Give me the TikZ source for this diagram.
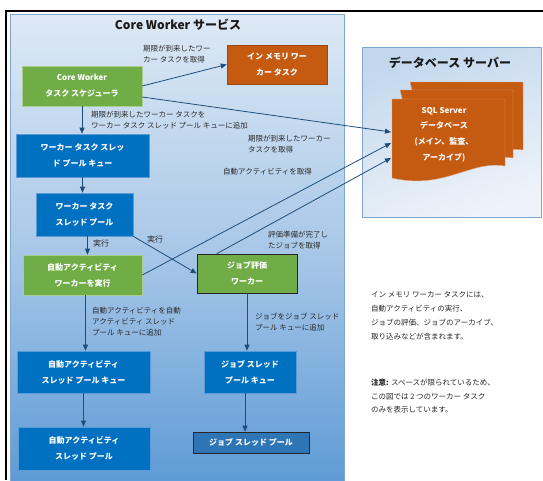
\documentclass[tikz,border=0pt]{standalone}
\usepackage{fontspec}
\setmainfont{Noto Sans CJK JP}
\usetikzlibrary{arrows.meta,calc}
\definecolor{gr}{HTML}{70AD47}
\definecolor{bl}{HTML}{0070C0}
\definecolor{blb}{HTML}{5B9BD5}
\definecolor{jpf}{HTML}{2E75B6}
\definecolor{org}{HTML}{C55A11}
\definecolor{arr}{HTML}{1F4E79}
\definecolor{lab}{HTML}{2A2A2A}
\definecolor{cwtop}{HTML}{DDE9F5}
\definecolor{cwmid}{HTML}{A9C8E8}
\definecolor{cwbot}{HTML}{5E9BD6}
\definecolor{pborder}{HTML}{7FA7CF}
\definecolor{dba}{HTML}{C3D8ED}
\definecolor{dbb}{HTML}{EEF3F9}
\begin{document}
\begin{tikzpicture}[x=1pt,y=-1pt,
  box/.style={inner sep=0pt, align=center, text=white,
    font=\fontsize{8}{16}\selectfont\bfseries, line width=0.6pt},
  greenbox/.style={box, fill=gr, draw=gr!60!white},
  bluebox/.style={box, fill=bl, draw=blb},
  lbl/.style={inner sep=0pt, anchor=west, align=left, text=lab,
    font=\fontsize{7.5}{11}\selectfont},
  conn/.style={draw=arr, line width=0.8pt, -{Triangle[length=6pt,width=5pt]}},
  title/.style={inner sep=0pt, text=black!90, font=\fontsize{12}{14}\selectfont\bfseries}
]
\useasboundingbox (0,0) rectangle (543,480);
% frame lines
\draw[line width=2.5pt] (4.75,11) -- (543,11);
\draw[line width=2.5pt] (6,9.75) -- (6,480);
% Core Worker panel
\draw[draw=pborder, line width=0.6pt, top color=cwtop, bottom color=cwbot, middle color=cwmid] (10,14) rectangle (344,482);
\node[title] (cwtitle) at (178,25) {Core Worker サービス};
% Database panel
\draw[draw=pborder, line width=0.6pt, top color=dba, bottom color=dbb, shading angle=20] (362,47) rectangle (541,217);
\node[title] (dbtitle) at (450,63) {データベース サーバー};
% document stack
\draw[fill=org, draw=org!55!white, line width=0.4pt] (410,82) -- (523,82) -- (523,150) .. controls (490,145) and (465,170) .. (430,160) -- cycle;
\draw[fill=org, draw=org!55!white, line width=0.4pt] (400,90) -- (513,90) -- (513,158) .. controls (480,153) and (455,178) .. (420,168) -- cycle;
\draw[fill=org, draw=org!55!white, line width=0.4pt] (392,99) -- (505,99) -- (505,166) .. controls (470,160) and (445,190) .. (392,178) -- cycle;
\node[box, font=\fontsize{8}{15.7}\selectfont\bfseries] (dbtext) at (444,134.5) {SQL Server\\データベース\\(メイン、監査、\\アーカイブ)};
\coordinate (db1) at (391,132);
\coordinate (db2) at (391,143);
\coordinate (db3) at (391,158);
% nodes
\node[greenbox, minimum width=120pt, minimum height=40pt] (sched) at (82,86) {Core Worker\\タスク スケジューラ};
\node[box, fill=org, draw=org!80!black, minimum width=100pt, minimum height=39pt] (inmem) at (277,64.5) {イン メモリ ワー\\カー タスク};
\node[bluebox, minimum width=133pt, minimum height=43pt] (wtq) at (82.5,155.5) {ワーカー タスク スレッ\\ド プール キュー};
\node[bluebox, minimum width=97pt, minimum height=43pt] (wtp) at (84.5,214.5) {ワーカー タスク\\スレッド プール};
\node[greenbox, minimum width=119pt, minimum height=40pt] (aaw) at (82.5,275) {自動アクティビティ\\ワーカーを実行};
\node[box, fill=gr, draw=black!85, minimum width=100pt, minimum height=39pt] (jew) at (247,273.5) {ジョブ評価\\ワーカー};
\node[bluebox, minimum width=133pt, minimum height=42pt] (aaq) at (83.5,372) {自動アクティビティ\\スレッド プール キュー};
\node[bluebox, minimum width=92pt, minimum height=42pt] (jq) at (250,372) {ジョブ スレッド\\プール キュー};
\node[bluebox, minimum width=132pt, minimum height=43pt] (aap) at (84,448.5) {自動アクティビティ\\スレッド プール};
\node[box, fill=jpf, draw=black!85, minimum width=116pt, minimum height=21pt] (jp) at (251,442.5) {ジョブ スレッド プール};
% helper coordinates
\coordinate (wtpS) at ($(wtp.south)+(3,0)$);
\coordinate (aawS) at ($(aaw.south)+(3,0)$);
\coordinate (jqS) at ($(jq.south)+(-5,0)$);
\coordinate (schE) at ($(sched.east)+(0,11)$);
\coordinate (jewN) at ($(jew.north west)+(20,0)$);
% connectors
\draw[conn] (sched.east) -- (inmem.west);
\draw[conn] (schE) -- (db1);
\draw[conn] (sched.south) -- (sched.south |- wtq.north);
\draw[conn] (wtq.south) -- (wtq.south |- wtp.north);
\draw[conn] (wtpS) -- (wtpS |- aaw.north);
\draw[conn] (wtp.south east) -- (jew.west);
\draw[conn] (aaw.east) -- (db2);
\draw[conn] (jewN) -- (db3);
\draw[conn] (aawS) -- (aawS |- aaq.north);
\draw[conn] (jew.south) -- (jew.south |- jq.north);
\draw[conn] (jqS) -- (jqS |- jp.north);
\draw[conn] (aaq.south) -- (aaq.south |- aap.north);
% labels
\node[lbl] (l1) at (143,54.5) {期限が到来したワー\\カー タスクを取得};
\node[lbl] (l2) at (91,120.5) {期限が到来したワーカー タスクを\\ワーカー タスク スレッド プール キューに追加};
\node[lbl] (l3) at (248,144) {期限が到来したワーカー\\タスクを取得};
\node[lbl] (l4) at (223,172) {自動アクティビティを取得};
\node[lbl, font=\fontsize{8}{11}\selectfont] (l5) at (93,243) {実行};
\node[lbl, font=\fontsize{8}{11}\selectfont] (l6) at (147,239) {実行};
\node[lbl] (l7) at (268,240.5) {評価準備が完了し\\たジョブを取得};
\node[lbl] (l8) at (92,321.5) {自動アクティビティを自動\\アクティビティ スレッド\\プール キューに追加};
\node[lbl] (l9) at (255,322.5) {ジョブをジョブ スレッド\\プール キューに追加};
% notes
\node[lbl, font=\fontsize{7.5}{14}\selectfont, text=black!85] (n1) at (371,316) {イン メモリ ワーカー タスクには、\\自動アクティビティの実行、\\ジョブの評価、ジョブのアーカイブ、\\取り込みなどが含まれます。};
\node[lbl, font=\fontsize{7.5}{13.5}\selectfont, text=black!85] (n2) at (371,396.5) {\textbf{注意:} スペースが限られているため、\\この図では 2 つのワーカー タスク\\のみを表示しています。};
\end{tikzpicture}
\end{document}
